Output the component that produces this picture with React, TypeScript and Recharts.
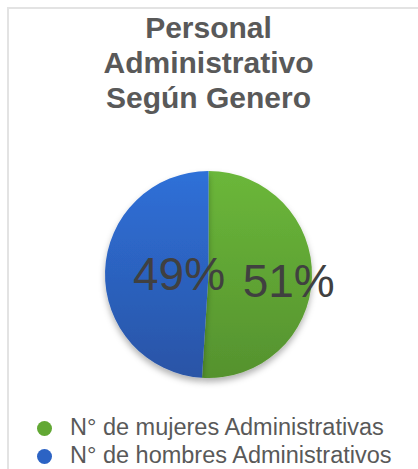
import { PieChart, Pie, Cell } from "recharts"

const categories = ["N° de mujeres Administrativas", "N° de hombres Administrativos"]
const shares = [51, 49]
const titleLines = ["Personal", "Administrativo", "Según Genero"]

const colors = [
  { top: "#6bb73a", bottom: "#55922e", legend: "#62a834" },
  { top: "#2f70d8", bottom: "#2954a6", legend: "#2c63c4" },
]

const data = categories.map((name, i) => ({ name, value: shares[i] }))

// where the % labels sit, as a fraction of the radius, plus a small vertical nudge
const labelRadius = [0.775, 0.285]
const labelNudge = [4, 0]
const RADIAN = Math.PI / 180

const renderLabel = ({ cx, cy, midAngle, outerRadius, index, value }: any) => {
  const r = outerRadius * labelRadius[index]
  const x = cx + r * Math.cos(-midAngle * RADIAN)
  const y = cy + r * Math.sin(-midAngle * RADIAN) + labelNudge[index]
  return (
    <text
      x={x}
      y={y}
      textAnchor="middle"
      dominantBaseline="central"
      fill="#404040"
      fontSize={46}
      fontFamily="'Liberation Sans', Arial, sans-serif"
    >
      {`${value}%`}
    </text>
  )
}

function ChartLegend() {
  return (
    <div
      style={{
        position: "absolute",
        left: 37,
        top: 414,
        fontFamily: "'Liberation Sans', Arial, sans-serif",
      }}
    >
      {categories.map((name, i) => (
        <div key={name} style={{ display: "flex", alignItems: "center", height: 28 }}>
          <span
            style={{
              width: 15,
              height: 15,
              borderRadius: "50%",
              background: colors[i].legend,
              display: "inline-block",
              marginRight: 18,
            }}
          />
          <span style={{ fontSize: 23.5, lineHeight: 1, color: "#595959", whiteSpace: "nowrap" }}>{name}</span>
        </div>
      ))}
    </div>
  )
}

export default function App() {
  return (
    <div style={{ position: "relative", width: 418, height: 469, overflow: "hidden", background: "#fff" }}>
      <style>{"body{margin:0;overflow:hidden}"}</style>
      <div
        style={{
          position: "absolute",
          left: 7,
          top: 7,
          width: 440,
          height: 480,
          borderTop: "2px solid #e3e3e3",
          borderLeft: "2px solid #e3e3e3",
        }}
      />
      <div
        style={{
          position: "absolute",
          top: 10,
          left: 0,
          width: 417,
          textAlign: "center",
          fontFamily: "'Liberation Sans', Arial, sans-serif",
          fontWeight: "bold",
          fontSize: 30,
          lineHeight: "35px",
          color: "#595959",
        }}
      >
        {titleLines.map((t) => (
          <div key={t}>{t}</div>
        ))}
      </div>
      <div style={{ position: "absolute", left: 0, top: 0 }}>
        <PieChart width={418} height={469} margin={{ top: 0, right: 0, bottom: 0, left: 0 }}>
          <defs>
            {colors.map((c, i) => (
              <linearGradient key={i} id={`grad${i}`} x1="0" y1="0" x2="0" y2="1">
                <stop offset="0%" stopColor={c.top} />
                <stop offset="100%" stopColor={c.bottom} />
              </linearGradient>
            ))}
            <filter id="pieShadow" x="-20%" y="-20%" width="140%" height="150%">
              <feDropShadow dx="0" dy="4" stdDeviation="3" floodColor="#000" floodOpacity="0.3" />
            </filter>
          </defs>
          <Pie
            data={data}
            dataKey="value"
            nameKey="name"
            cx={208.5}
            cy={274.5}
            innerRadius={0}
            outerRadius={103.5}
            startAngle={90}
            endAngle={-270}
            stroke="none"
            label={renderLabel}
            labelLine={false}
            isAnimationActive={false}
          >
            {data.map((entry, index) => (
              <Cell key={`cell-${index}`} fill={`url(#grad${index})`} filter="url(#pieShadow)" />
            ))}
          </Pie>
        </PieChart>
      </div>
      <ChartLegend />
    </div>
  )
}
